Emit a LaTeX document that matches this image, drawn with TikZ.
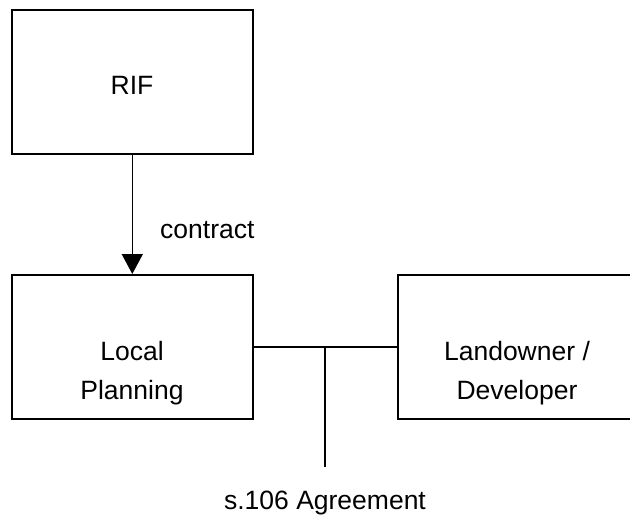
\documentclass[tikz,border=0pt]{standalone}
\usepackage{fontspec}
\setmainfont{Liberation Sans}
\usetikzlibrary{arrows.meta}
\begin{document}
\begin{tikzpicture}[x=1pt,y=-1pt,
  box/.style={draw=black,line width=1.6pt,inner sep=0pt,anchor=north west},
  lbl/.style={font=\fontsize{26.5}{30}\selectfont,inner sep=0pt,anchor=base},
  conn/.style={line width=1.6pt,draw=black}]
\useasboundingbox (0,0) rectangle (630,515);
\clip (0,0) rectangle (630,515);
\node[box,minimum width=241pt,minimum height=144pt] (rif) at (11,9) {};
\node[box,minimum width=241pt,minimum height=144pt] (lp) at (11,274) {};
\node[box,minimum width=240pt,minimum height=144pt] (ld) at (397,274) {};
\node[lbl] (rift) at (132,94) {RIF};
\node[lbl,anchor=base west] (ct) at (160,238) {contract};
\node[lbl] (lp1) at (132,360) {Local};
\node[lbl] (lp2) at (132,399) {Planning};
\node[lbl] (ld1) at (517,360) {Landowner /};
\node[lbl] (ld2) at (517,399) {Developer};
\node[lbl] (s106) at (325,509) {s.106 Agreement};
\coordinate (j) at (325,347);
\coordinate (jend) at (325,467);
\draw[conn,-{Triangle[width=21pt,length=20pt]}] (rif.south) -- (lp.north);
\draw[conn] (lp.east) -- (ld.west);
\draw[conn] (j) -- (jend);
\end{tikzpicture}
\end{document}
